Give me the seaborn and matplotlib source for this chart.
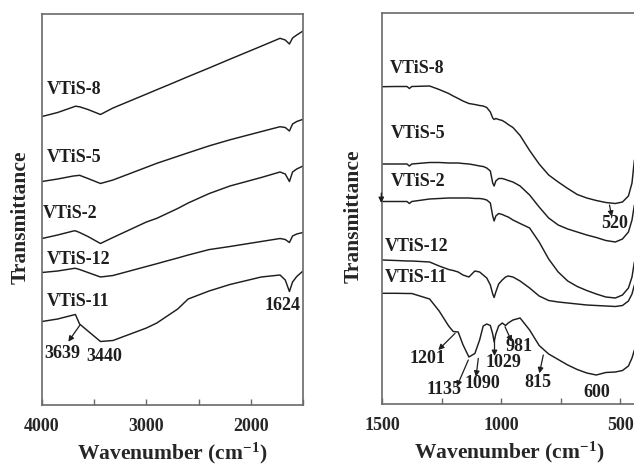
import numpy as np
import pandas as pd
import matplotlib
matplotlib.use("Agg")
import matplotlib.pyplot as plt
from matplotlib.ticker import MultipleLocator
import seaborn as sns

# ---------------- data ----------------
samples = ["VTiS-8", "VTiS-5", "VTiS-2", "VTiS-12", "VTiS-11"]

# left panel: 4000-1500 cm-1
wn_left = [4000, 3850, 3700, 3680, 3640, 3560, 3440, 3320, 3000, 2900, 2800,
           2700, 2600, 2400, 2200, 1900, 1720, 1670, 1630, 1600, 1560, 1500]
left_vtis8 = [288.5, 292.5, 298, 298.8, 298.2, 295.5, 290.5, 297, 310.9, 315.3, 319.6,
              324, 328.4, 337, 345.8, 358.8, 366.7, 365, 361, 367, 370, 374]
left_vtis5 = [223.5, 226, 229, 229.2, 229.7, 226.5, 221.5, 225, 237.7, 241.7, 245.2,
              248.7, 252.2, 259.1, 265.2, 273.4, 278.3, 277.5, 274, 281, 283.5, 285.7]
left_vtis2 = [166.5, 170, 174, 174.2, 172.5, 168.5, 161.5, 167.5, 183, 186.7, 191.6,
              196.5, 202, 211.4, 219, 227.5, 233, 231, 223.5, 233, 236, 239]
left_vtis12 = [132.5, 134, 136.5, 136.7, 135.5, 132.5, 128, 129.5, 138.5, 141.3, 144.2,
               147, 150, 155.4, 158.5, 163.5, 166.5, 165.5, 162.5, 169, 171, 172.5]
left_vtis11 = [83.5, 86, 90, 90.5, 81, 74, 63.5, 64.5, 77, 82, 89,
               96, 106, 114, 120.5, 128, 130, 125, 113.5, 123, 128.5, 134]

# right panel: 1500-440 cm-1
wn_right = [1500, 1440, 1395, 1385, 1375, 1300, 1260, 1220, 1201, 1180,
            1160, 1135, 1110, 1090, 1075, 1060, 1045, 1035, 1029, 1022,
            1010, 995, 981, 970, 950, 920, 880, 840, 800, 760,
            720, 680, 640, 600, 560, 520, 490, 465, 450, 440]
right_vtis8 = [318.3, 318.5, 318.5, 316.5, 318.5, 319, 315.5, 311.5, 309, 306.5,
               304, 301.5, 300.5, 299.5, 299, 297.5, 293, 287, 285.5, 286.5,
               285.5, 284.5, 282.5, 280.5, 277.5, 269.5, 254.5, 241, 230, 223,
               216.5, 210.5, 207, 204.5, 202.5, 201.5, 203, 209, 222, 245]
right_vtis5 = [241, 241, 241, 239, 241, 242.5, 242.5, 242, 242, 242,
               241.5, 241, 240, 239, 238.5, 237, 234, 222, 219, 224,
               226.5, 226.5, 225.5, 224.5, 223, 219, 210, 198, 187, 180,
               176, 173, 170, 167.5, 164.5, 163, 166, 173, 185, 200]
right_vtis2 = [203.5, 203.5, 203.5, 201.5, 203.5, 206, 206.5, 207, 207, 207,
               207, 207, 206.5, 206.5, 206, 205, 202, 189, 184, 189,
               191.5, 190.5, 189, 188, 185, 181.5, 177, 163, 146, 133,
               124, 118.5, 114.5, 111, 108, 107, 110, 117, 128, 143]
right_vtis12 = [145, 144.5, 144, 144, 144, 143, 139, 135.5, 134.5, 133,
                130, 128, 134, 133, 130, 127, 120, 111, 107.5, 113,
                121, 125, 128, 129, 128, 124, 117, 109, 104.5, 103,
                102, 101, 100, 99.5, 99, 98.5, 99.5, 104, 111, 120]
right_vtis11 = [111.7, 111.7, 111.5, 111.5, 111.5, 106, 94, 79, 73.5, 73,
                60.3, 48, 51.5, 65, 79, 81, 79.5, 71, 63, 71,
                79, 82, 79.5, 82, 85, 87, 75, 59.5, 51, 45.5,
                40, 35.5, 32, 30, 32.5, 33, 34.5, 39, 47, 55]

left_ticks = [4000, 3000, 2000]
right_ticks = [1500, 1000, 500]

# ---------------- styling ----------------
sns.set_theme(style="white")
plt.rcParams["font.family"] = ["Liberation Serif", "DejaVu Serif"]
plt.rcParams["font.weight"] = "bold"
plt.rcParams["mathtext.fontset"] = "custom"
plt.rcParams["mathtext.rm"] = "Liberation Serif:bold"
plt.rcParams["mathtext.bf"] = "Liberation Serif:bold"
plt.rcParams["mathtext.it"] = "Liberation Serif:bold"
plt.rcParams["mathtext.default"] = "rm"

LINE = "#1e1e1e"
SPINE = "#6a6a6a"

def long_frame(wn, series):
    rows = []
    for name, vals in zip(samples, series):
        rows.append(pd.DataFrame({"wn": wn, "T": vals, "sample": name}))
    return pd.concat(rows, ignore_index=True)

df_left = long_frame(wn_left, [left_vtis8, left_vtis5, left_vtis2, left_vtis12, left_vtis11])
df_right = long_frame(wn_right, [right_vtis8, right_vtis5, right_vtis2, right_vtis12, right_vtis11])

fig = plt.figure(figsize=(6.34, 4.67), dpi=100)
axL = fig.add_axes([42 / 634, 62 / 467, 261 / 634, 391 / 467])
axR = fig.add_axes([382 / 634, 63 / 467, 254 / 634, 391 / 467])

pal = {s: LINE for s in samples}
for ax, df in ((axL, df_left), (axR, df_right)):
    sns.lineplot(data=df, x="wn", y="T", hue="sample", palette=pal, legend=False,
                 estimator=None, sort=False, linewidth=1.05, ax=ax)

axL.set_xlim(4000, 1500)
axL.set_ylim(0, 391)
axR.set_xlim(1500, 1500 - 254 * 4.2)
axR.set_ylim(1, 392)

for ax, ticks, minor in ((axL, left_ticks, 500), (axR, right_ticks, 250)):
    ax.set_xticks(ticks)
    ax.set_xticklabels([str(t) for t in ticks])
    ax.xaxis.set_minor_locator(MultipleLocator(minor))
    ax.set_yticks([])
    ax.tick_params(axis="x", which="both", direction="in", length=4.5, width=1.0,
                   color=SPINE, bottom=True, top=False, pad=9.5, labelsize=13)
    for lab in ax.get_xticklabels():
        lab.set_fontweight("bold")
    for sp in ax.spines.values():
        sp.set_color(SPINE)
        sp.set_linewidth(1.2)
    ax.set_xlabel(r"Wavenumber (cm$^{-1}$)", fontsize=15.5, fontweight="bold", labelpad=4)
    ax.set_ylabel("Transmittance", fontsize=15.5, fontweight="bold", va="center")

axL.yaxis.set_label_coords(-0.082, 0.48)
axR.yaxis.set_label_coords(-0.11, 0.48)

TXT = dict(fontsize=13, fontweight="bold", color="#1e1e1e")

# sample labels
left_lab_pos = {"VTiS-8": (3952, 316), "VTiS-5": (3952, 248), "VTiS-2": (3990, 192),
                "VTiS-12": (3955, 145.7), "VTiS-11": (3955, 104)}
right_lab_pos = {"VTiS-8": (1467.7, 336.7), "VTiS-5": (1461, 271.7), "VTiS-2": (1461, 224),
                 "VTiS-12": (1488.7, 158.3), "VTiS-11": (1488.7, 127.3)}
for s in samples:
    x, y = left_lab_pos[s]
    axL.text(x, y, s, ha="left", va="center", **TXT)
    x, y = right_lab_pos[s]
    axR.text(x, y, s, ha="left", va="center", **TXT)

ARW = dict(arrowstyle="-|>", color="#1e1e1e", lw=0.9, mutation_scale=8,
           shrinkA=0, shrinkB=0)

# left annotations
axL.annotate("", xy=(3748, 63.3), xytext=(3636, 80), arrowprops=ARW)
axL.text(3804, 52, "3639", ha="center", va="center", **TXT)
axL.text(3406, 48.3, "3440", ha="center", va="center", **TXT)
axL.text(1696, 99, "1624", ha="center", va="center", **TXT)

# right annotations
axR.annotate("", xy=(1263.5, 55), xytext=(1193, 71.7), arrowprops=ARW)
axR.text(1309, 46.7, "1201", ha="center", va="center", **TXT)
axR.annotate("", xy=(1186, 18.3), xytext=(1137.5, 45), arrowprops=ARW)
axR.text(1237.5, 15, "1135", ha="center", va="center", **TXT)
axR.annotate("", xy=(1105, 28.3), xytext=(1095.5, 46.7), arrowprops=ARW)
axR.text(1080, 21, "1090", ha="center", va="center", **TXT)
axR.annotate("", xy=(1027.5, 49), xytext=(1027.5, 64), arrowprops=ARW)
axR.text(989.7, 42.5, "1029", ha="center", va="center", **TXT)
axR.annotate("", xy=(955, 63.3), xytext=(983.4, 78.3), arrowprops=ARW)
axR.text(925, 58.5, "981", ha="center", va="center", **TXT)
axR.annotate("", xy=(839, 31.7), xytext=(822.5, 50), arrowprops=ARW)
axR.text(847, 22.5, "815", ha="center", va="center", **TXT)
axR.text(597, 12.5, "600", ha="center", va="center", **TXT)
axR.annotate("", xy=(535, 188.3), xytext=(544.5, 200), arrowprops=ARW)
axR.text(523.5, 182, "520", ha="center", va="center", **TXT)
axR.annotate("", xy=(1503, 202), xytext=(1503, 212), arrowprops=ARW, annotation_clip=False)

fig.savefig("out.png", dpi=100)
